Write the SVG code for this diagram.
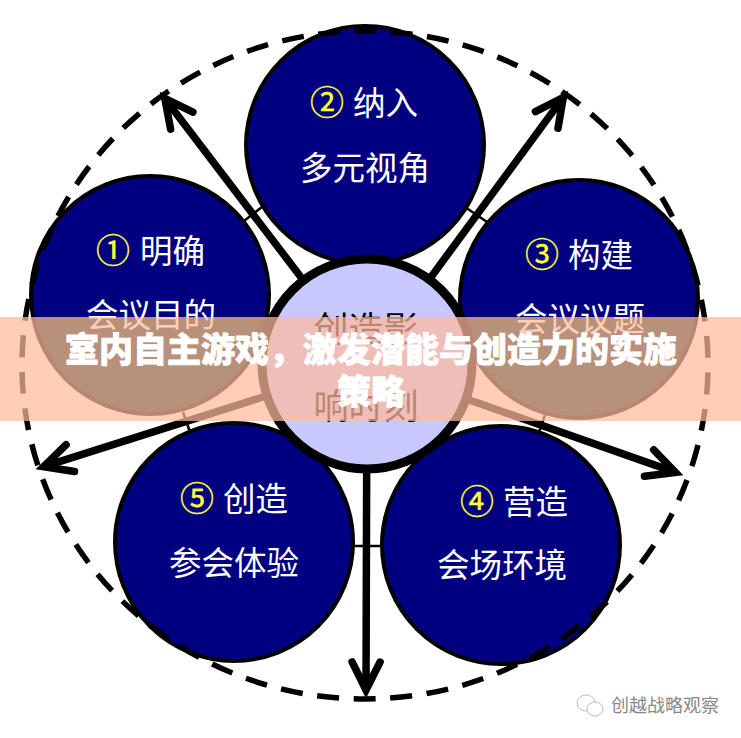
<svg xmlns="http://www.w3.org/2000/svg" width="741" height="738" viewBox="0 0 741 738">
<defs>
<marker id="ah" markerUnits="userSpaceOnUse" markerWidth="50" markerHeight="50" refX="34" refY="22" orient="auto" overflow="visible"><path d="M6 8 L34 22 L6 36" fill="none" stroke="#000" stroke-width="7.5" stroke-linecap="round" stroke-miterlimit="10"/></marker>
<clipPath id="bandclip"><rect x="0" y="317" width="741" height="104"/></clipPath>
</defs>
<style>
.n{fill:#000080;stroke:#000;stroke-width:4}
.d{fill:#002820;clip-path:url(#bandclip)}
.t{font-family:"Liberation Serif","Noto Sans CJK SC",serif;font-size:32.5px;fill:#fff;text-anchor:middle}
.l{text-anchor:start}
.y{font-family:"Noto Sans CJK SC",sans-serif;font-size:34px;fill:#ffff33;stroke:#ffff33;stroke-width:.4;text-anchor:middle}
.a{stroke:#000;stroke-width:7.5;fill:none;marker-end:url(#ah)}
.c{stroke:#000;stroke-width:2.5;fill:none}
.k{font-size:35px;fill:#000}
.m{font-family:"Noto Sans CJK SC",sans-serif;font-weight:900;font-size:34px;fill:#fff;stroke:#fff;stroke-width:.8;text-anchor:middle}
</style>
<rect width="741" height="738" fill="#fff"/>
<g id="connectors">
<line class="a" x1="367" y1="364" x2="164.8" y2="98.4"/>
<line class="a" x1="367" y1="364" x2="563.3" y2="97.4"/>
<line class="a" x1="367" y1="364" x2="675.5" y2="472.4"/>
<line class="a" x1="367" y1="364" x2="43.6" y2="466.6"/>
<line class="a" x1="367" y1="364" x2="366" y2="690"/>
<line class="c" x1="240" y1="224" x2="262" y2="207"/>
<line class="c" x1="465" y1="207" x2="490" y2="224"/>
<line class="c" x1="546" y1="412" x2="539" y2="432"/>
<line class="c" x1="183" y1="412" x2="190" y2="432"/>
<line class="c" x1="350" y1="546" x2="385" y2="546"/>
</g>
<g id="node1"><circle class="n" cx="150" cy="295" r="119"/><circle class="d" cx="150" cy="295" r="117"/><text class="y" x="113" y="263">①</text><text class="t l" x="140" y="263">明确</text><text class="t" x="151" y="327">会议目的</text></g>
<g id="node2"><circle class="n" cx="365" cy="145" r="119"/><text class="y" x="327" y="115">②</text><text class="t l" x="353" y="115">纳入</text><text class="t" x="365" y="180">多元视角</text></g>
<g id="node3"><circle class="n" cx="579" cy="299" r="119"/><circle class="d" cx="579" cy="299" r="117"/><text class="y" x="542" y="267">③</text><text class="t l" x="568" y="267">构建</text><text class="t" x="580" y="331">会议议题</text></g>
<g id="node4"><circle class="n" cx="501" cy="545" r="119"/><text class="y" x="477" y="514">④</text><text class="t l" x="503" y="514">营造</text><text class="t" x="502" y="577">会场环境</text></g>
<g id="node5"><circle class="n" cx="234" cy="542" r="119"/><text class="y" x="197" y="511">⑤</text><text class="t l" x="223" y="511">创造</text><text class="t" x="234" y="575">参会体验</text></g>
<g id="center"><circle cx="367" cy="364" r="105" fill="#c8c8ff" stroke="#000" stroke-width="9"/><text class="t k" x="366" y="342">创造影</text><text class="t k" x="366" y="419">响时刻</text></g>
<path id="ring" d="M354 31.17 A343 334 0 0 1 376 698.83 A343 334 0 0 1 354 31.17 Z" fill="none" stroke="#000" stroke-width="5.5" stroke-dasharray="22 14.67"/>
<rect id="band" x="0" y="317" width="741" height="104" fill="#ffba9c" fill-opacity="0.72"/>
<g id="title"><text class="m" x="371" y="362">室内自主游戏，激发潜能与创造力的实施</text><text class="m" x="371" y="404">策略</text></g>
<g id="watermark"><ellipse cx="586" cy="703" rx="9" ry="8" fill="none" stroke="#bbb" stroke-width="1"/><ellipse cx="595" cy="709" rx="8" ry="7" fill="#fff" stroke="#bbb" stroke-width="1"/><text x="611" y="712" font-family="Noto Sans CJK SC,sans-serif" font-size="18" fill="#888">创越战略观察</text></g>
</svg>
